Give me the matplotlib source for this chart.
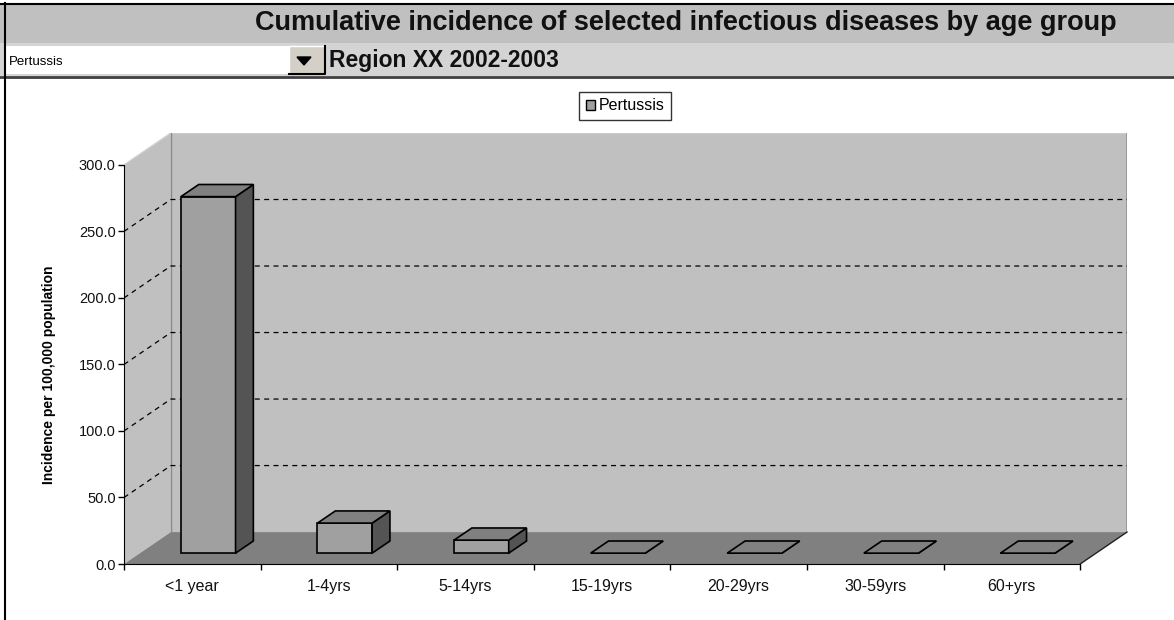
import matplotlib

matplotlib.use("Agg")
import matplotlib.pyplot as plt
from matplotlib.lines import Line2D
from matplotlib.patches import Patch, Polygon, Rectangle

plt.rcParams["font.family"] = ["Liberation Sans", "DejaVu Sans"]

age_groups = ["<1 year", "1-4yrs", "5-14yrs", "15-19yrs", "20-29yrs", "30-59yrs", "60+yrs"]
incidence = [268.0, 22.6, 9.8, 0.0, 0.0, 0.0, 0.0]
disease = "Pertussis"
yticks = [0, 50, 100, 150, 200, 250, 300]
title = "Cumulative incidence of selected infectious diseases by age group"
subtitle = "Region XX 2002-2003"

W, H = 1174, 620
fig = plt.figure(figsize=(W / 100, H / 100), dpi=100)
fig.patch.set_facecolor("white")


def fx(px):
    return px / W


def fy(py):
    return 1 - py / H


def frect(x0, y0, x1, y1, **kw):
    fig.patches.append(Rectangle((fx(x0), fy(y1)), fx(x1) - fx(x0), fy(y0) - fy(y1),
                                 transform=fig.transFigure, **kw))


def fline(xs, ys, **kw):
    fig.lines.append(Line2D([fx(x) for x in xs], [fy(y) for y in ys],
                            transform=fig.transFigure, **kw))


# header bands
frect(0, 3, W, 43, facecolor="#c0c0c0", edgecolor="none")
frect(0, 43, W, 76, facecolor="#d4d4d4", edgecolor="none")
fline([0, W], [3.5, 3.5], color="black", lw=1.5)
fline([0, W], [76.5, 76.5], color="#404040", lw=2)
fline([5, 5], [3, H], color="black", lw=1.5)

# dropdown box
frect(5, 46, 289, 74, facecolor="white", edgecolor="none")
frect(289, 46, 325, 74, facecolor="#d4d0c8", edgecolor="none")
fline([289, 289, 325], [74, 46, 46], color="white", lw=1)
fline([289, 325, 325], [74, 74, 46], color="black", lw=1.5)
fig.patches.append(Polygon([(fx(297), fy(57)), (fx(311), fy(57)), (fx(304), fy(65))],
                           closed=True, transform=fig.transFigure,
                           facecolor="black", edgecolor="black"))

fig.text(fx(686), fy(23), title, ha="center", va="center", fontsize=19.5, fontweight="bold",
         color="#111111")
fig.text(fx(329), fy(61), subtitle, ha="left", va="center", fontsize=16.5, fontweight="bold",
         color="#111111")
fig.text(fx(9), fy(62), disease, ha="left", va="center", fontsize=9.5, color="black")

# oblique 3D layout: depth shifts right by DX categories and up by DY value units
DX = 0.343
DY = 24.0
ymax = yticks[-1]
n = len(age_groups)

ax = fig.add_axes([fx(124), fy(564), fx(1127) - fx(124), fy(133) - fy(564)])
ax.set_xlim(0, n + DX)
ax.set_ylim(0, ymax + DY)
ax.patch.set_visible(False)


def proj(x, v, d):
    return (x + d * DX, v + d * DY)


# walls and floor
ax.add_patch(Polygon([(0, 0), (DX, DY), (DX, ymax + DY), (0, ymax)],
                     facecolor="#c0c0c0", edgecolor="none", zorder=1))
ax.add_patch(Rectangle((DX, DY), n, ymax, facecolor="#c0c0c0", edgecolor="none", zorder=1))
ax.add_patch(Polygon([(0, 0), (n, 0), (n + DX, DY), (DX, DY)],
                     facecolor="#808080", edgecolor="none", zorder=1))
ax.plot([0, DX, n + DX], [ymax, ymax + DY, ymax + DY], color="#d0d0d0", lw=1, zorder=2)
ax.plot([DX, DX], [DY, ymax + DY], color="#8a8a8a", lw=1, zorder=2)
ax.plot([n + DX, n + DX], [DY, ymax + DY], color="#909090", lw=1.2, zorder=2)
ax.plot([n, n + DX], [0, DY], color="#202020", lw=1, zorder=2, clip_on=False)

for v in yticks[1:-1]:
    ax.plot([0, DX, n + DX], [v, v + DY, v + DY], color="black", lw=0.9,
            dashes=(4, 3.5), zorder=2)

# columns
d0, d1 = 0.34, 0.72
half = 0.2
for i, v in enumerate(incidence):
    x0, x1 = i + 0.5 - half, i + 0.5 + half
    faces = [
        ([proj(x0, 0, d0), proj(x1, 0, d0), proj(x1, v, d0), proj(x0, v, d0)], "#a0a0a0"),
        ([proj(x1, 0, d0), proj(x1, 0, d1), proj(x1, v, d1), proj(x1, v, d0)], "#545454"),
        ([proj(x0, v, d0), proj(x1, v, d0), proj(x1, v, d1), proj(x0, v, d1)], "#808080"),
    ]
    for pts, color in faces:
        ax.add_patch(Polygon(pts, closed=True, facecolor=color, edgecolor="black",
                             lw=1.2, joinstyle="miter", zorder=3))

# axes, ticks and labels
for side in ["top", "right"]:
    ax.spines[side].set_visible(False)
ax.spines["left"].set_bounds(0, ymax)
ax.spines["bottom"].set_bounds(0, n)
ax.spines["left"].set_zorder(4)
ax.spines["bottom"].set_zorder(4)

ax.set_yticks(yticks)
ax.set_yticklabels([f"{t:.1f}" for t in yticks])
ax.set_xticks(range(n + 1))
ax.set_xticklabels([])
ax.set_xticks([i + 0.5 for i in range(n)], minor=True)
ax.set_xticklabels(age_groups, minor=True)
ax.tick_params(axis="y", direction="out", length=4.5, width=1, pad=1.5, labelsize=10.5,
               labelcolor="#111111")
ax.tick_params(axis="x", which="major", direction="out", length=4.5, width=1)
ax.tick_params(axis="x", which="minor", length=0, pad=11, labelsize=11.5, labelcolor="#111111")

ax.set_ylabel("Incidence per 100,000 population", fontsize=10, fontweight="bold",
              family=["Liberation Sans Narrow", "Liberation Sans"])
ax.yaxis.set_label_coords(-0.068, 0.44)

legend = ax.legend(handles=[Patch(facecolor="#a0a0a0", edgecolor="black", lw=1, label=disease)],
                   loc="center", bbox_to_anchor=(fx(625), fy(106)),
                   bbox_transform=fig.transFigure, fontsize=11.5, frameon=True, fancybox=False,
                   handlelength=0.6, handleheight=0.6, handletextpad=0.2, borderpad=0.4,
                   borderaxespad=0)
legend.get_frame().set_edgecolor("black")
legend.get_frame().set_linewidth(1)

fig.savefig("out.png", dpi=100)
